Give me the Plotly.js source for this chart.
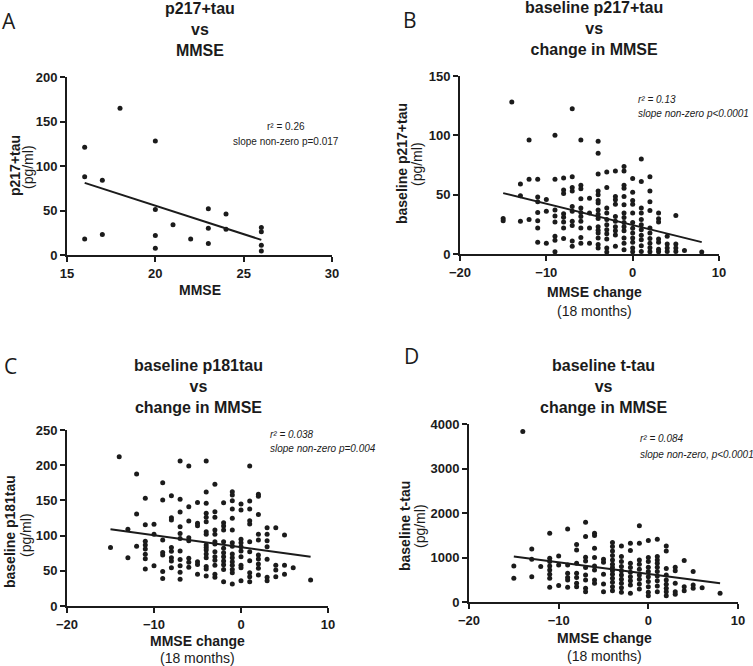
<!DOCTYPE html>
<html>
<head>
<meta charset="utf-8">
<script src="https://cdn.plot.ly/plotly-3.0.1.min.js"></script>
<style>html,body{margin:0;padding:0;background:#fff;}#chart{width:753px;height:666px;}</style>
</head>
<body>
<div id="chart"></div>
<script>
// ---------- DATA ----------
// Panel A: p217+tau vs MMSE
const aX = [16,16,16,17,17,18,20,20,20,20,21,22,23,23,23,24,24,26,26,26,26];
const aY = [121,88,18,84,23,165,128,51,22,7.5,34,18,52,30,13,46,29,31,26,11,4.5];
const aLineX = [16, 26];
const aLineY = [81, 17];

// MMSE change columns (shared by panels B, C, D)
const changeCols = [-15,-14,-13,-12,-11,-10,-9,-8,-7,-6,-5,-4,-3,-2,-1,0,1,2,3,4,5,6,8];

// Panel B: baseline p217+tau vs MMSE change
const bVals = [
 [30,28],
 [128],
 [59,49,27.5],
 [96,63,29],
 [63,48,44,35,28,22,10],
 [46,36,9],
 [100,63,37,32,27,15,11.5,2],
 [64,54,51,34,31,27,22,13],
 [122.5,65,56,53,40,36,27.5,24,11,6.5],
 [96,58,55,46.5,38.7,35,31.7,27.5,22,14,9],
 [47,34.5,22,9],
 [95,85,67.5,53,50,45,43,37,33.6,30,23,20,17.7,13.5,8,5],
 [69,56,38.7,34.5,29,24.7,20.5,17,12.6,5,1.7],
 [70,48.5,45.7,42,31.7,27.5,23,19.6,16,6.5],
 [73.7,70,58,55.5,48.5,41.5,34.5,30.8,26.6,23,19.6,13.5,9,3.6],
 [63.6,52,45,42,34.5,26.6,21.6,17.7,13.5,10,5,2],
 [80,61,38.7,34.5,29,24.7,20.5,15.7,12,7,2.2],
 [65,53,44,36.7,22,17.7,13,9,5.3,2],
 [34.5,29.7,27,12.6,10,4,2],
 [15,8.5,5,2.2],
 [32.5,8.5,5,2.2],
 [3],
 [1.7]
];
const bLineX = [-15, 8];
const bLineY = [51.3, 10];

// Panel C: baseline p181tau vs MMSE change
const cVals = [
 [83],
 [212],
 [109,68.7],
 [187.5,130.7,85],
 [153,115.5,92,86.6,81,73.4,67,52.6],
 [116,102,57],
 [175,150.6,93.7,76,72.4,49,39],
 [156.7,125.5,122,83,77.6,68.7,64,54.5],
 [206,151.5,133.5,112.7,103,96,78,66,57,48,38],
 [199,141,120.7,97,92.8,67.7,62,55],
 [147,117.4,114,63,59,45],
 [206,162,146,131.6,126,119.8,105.6,102,86.6,83,79.5,74,68.7,56,52.6,42.6],
 [173,134,126,108,102,91.4,88,77,70,65,58,45,40.7],
 [146.8,118.4,113.6,108,91.4,82,75.8,70,64,58.7,52,34.6],
 [162.4,157.7,149.6,137.8,124.5,108,90,85,74,68.7,63,58,52,47.3,31.3],
 [145,136.4,94.7,90,84.3,78,70,58,54.5,36],
 [199,149,137.8,121,116.5,91.4,77,64.4,47.3,41.7,34.6],
 [158.6,156,130,102,93.7,72.4,66.8,59.7,53.5,44],
 [111,102,92.8,84.3,66.3,40.7,36],
 [111,58,51,41.7],
 [100.8,58,45],
 [54.5],
 [37]
];
const cLineX = [-15, 8];
const cLineY = [109, 70];

// Panel D: baseline t-tau vs MMSE change
const dVals = [
 [810,533],
 [3830],
 [1193,960,570],
 [795],
 [1546,983,908,810,720,623,533,330],
 [1036,833,368],
 [1643,833,645,548,495,330],
 [1290,1170,870,645,548,420,345],
 [1794,1471,1005,923,773,608,495,308,233],
 [1546,1493,1208,998,810,720,495,420],
 [960,893,623,405,233],
 [1336,1246,1148,1043,946,848,773,705,623,533,443,345,255],
 [1261,1021,908,796,705,608,510,420,323,218],
 [1321,1156,870,773,668,570,480,383,195],
 [1711,1321,946,848,735,608,510,405,293],
 [1381,998,908,780,683,570,458,345,218,143],
 [1411,1021,946,870,780,683,585,480,360,233],
 [1261,1148,750,608,495,398,308,233,143],
 [780,705,420,233,173],
 [930,345,255],
 [683,383,308],
 [323],
 [195]
];
const dLineX = [-15, 8];
const dLineY = [1020, 420];

// Tick labels
const aXTicks = [15,20,25,30];
const aYTicks = [0,50,100,150,200];
const chXTicks = [-20,-10,0,10];
const bYTicks = [0,50,100,150];
const cYTicks = [0,50,100,150,200,250];
const dYTicks = [0,1000,2000,3000,4000];

// ---------- BUILD ----------
function flatten(cols, vals){
  const x=[], y=[];
  cols.forEach((c,i)=>vals[i].forEach(v=>{x.push(c); y.push(v);}));
  return {x,y};
}
const B = flatten(changeCols, bVals);
const C = flatten(changeCols, cVals);
const D = flatten(changeCols, dVals);

const INK = '#1b1b1b';
const FONT = 'Liberation Sans, Arial, sans-serif';

function pts(x,y,xa,ya){
  return {x,y,xaxis:xa,yaxis:ya,type:'scatter',mode:'markers',cliponaxis:false,
    marker:{size:5,color:INK},hoverinfo:'x+y',showlegend:false};
}
function line(x,y,xa,ya){
  return {x,y,xaxis:xa,yaxis:ya,type:'scatter',mode:'lines',cliponaxis:false,
    line:{color:INK,width:2},hoverinfo:'skip',showlegend:false};
}

const data = [
  pts(aX,aY,'x','y'), line(aLineX,aLineY,'x','y'),
  pts(B.x,B.y,'x2','y2'), line(bLineX,bLineY,'x2','y2'),
  pts(C.x,C.y,'x3','y3'), line(cLineX,cLineY,'x3','y3'),
  pts(D.x,D.y,'x4','y4'), line(dLineX,dLineY,'x4','y4')
];

const W=753, H=666;
function ax(domPx, range, tickvals, anchor, isY){
  const dom = isY ? [1-domPx[1]/H, 1-domPx[0]/H] : [domPx[0]/W, domPx[1]/W];
  return {domain:dom, range:range, tickvals:tickvals, anchor:anchor,
    showline:true, linecolor:INK, linewidth:2, mirror:false,
    ticks:'outside', ticklen:5, tickwidth:2, tickcolor:INK,
    showgrid:false, zeroline:false, fixedrange:true,
    tickfont:{family:FONT,size:13,color:INK,weight:700}};
}

function T(px,py,text,o){
  o = o||{};
  return {xref:'paper',yref:'paper',x:px/W,y:1-py/H,text:text,showarrow:false,
    xanchor:o.xa||'center',yanchor:'middle',textangle:o.angle||0,
    font:{family:o.family||FONT,size:o.size||14,color:INK,weight:o.bold?700:400,style:o.italic?'italic':'normal'}};
}

const ann = [
  // panel letters
  T(9,21,'A',{size:21,family:'Open Sans, sans-serif'}),
  T(410,20,'B',{size:21,family:'Open Sans, sans-serif'}),
  T(10,366,'C',{size:21,family:'Open Sans, sans-serif'}),
  T(412,356,'D',{size:21,family:'Open Sans, sans-serif'}),
  // titles (three lines each)
  T(200,30,'p217+tau<br>vs<br>MMSE',{size:16,bold:true}),
  T(594,28,'baseline p217+tau<br>vs<br>change in MMSE',{size:16,bold:true}),
  T(198,386,'baseline p181tau<br>vs<br>change in MMSE',{size:16,bold:true}),
  T(603,386,'baseline t-tau<br>vs<br>change in MMSE',{size:16,bold:true}),
  // y titles
  T(15,166,'p217+tau',{bold:true,angle:-90}),
  T(28,167,'(pg/ml)',{angle:-90}),
  T(402,164,'baseline p217+tau',{bold:true,angle:-90}),
  T(417,164,'(pg/ml)',{angle:-90}),
  T(10,532,'baseline p181tau',{bold:true,angle:-90}),
  T(26,535,'(pg/ml)',{angle:-90}),
  T(405,526,'baseline t-tau',{bold:true,angle:-90}),
  T(420,526,'(pg/ml)',{angle:-90}),
  // x titles
  T(200,290,'MMSE',{bold:true}),
  T(594,292,'MMSE change',{bold:true}),
  T(594,311,'(18 months)'),
  T(197,641,'MMSE change',{bold:true}),
  T(197,658,'(18 months)'),
  T(604,638,'MMSE change',{bold:true}),
  T(604,656,'(18 months)'),
  // stats
  T(286,127,'r² = 0.26',{size:10}),
  T(286,142,'slope non-zero p=0.017',{size:10}),
  T(636,99,'r² = 0.13',{size:10,italic:true,xa:'left'}),
  T(636,113,'slope non-zero p<0.0001',{size:10,italic:true,xa:'left'}),
  T(268,434,'r² = 0.038',{size:10,italic:true,xa:'left'}),
  T(268,448,'slope non-zero p=0.004',{size:10,italic:true,xa:'left'}),
  T(638,438,'r² = 0.084',{size:10,italic:true,xa:'left'}),
  T(638,454,'slope non-zero, p<0.0001',{size:10,italic:true,xa:'left'})
];

const layout = {
  width:W, height:H, autosize:false,
  margin:{l:0,r:0,t:0,b:0},
  paper_bgcolor:'#fff', plot_bgcolor:'rgba(0,0,0,0)',
  showlegend:false,
  font:{family:FONT,color:INK},
  xaxis:  ax([67,332],[15,30],aXTicks,'y',false),
  yaxis:  ax([77,255],[0,200],aYTicks,'x',true),
  xaxis2: ax([460,719],[-20,10],chXTicks,'y2',false),
  yaxis2: ax([76,254],[0,150],bYTicks,'x2',true),
  xaxis3: ax([67,328],[-20,10],chXTicks,'y3',false),
  yaxis3: ax([430,606],[0,250],cYTicks,'x3',true),
  xaxis4: ax([469,738],[-20,10],chXTicks,'y4',false),
  yaxis4: ax([424,602],[0,4000],dYTicks,'x4',true),
  annotations: ann
};

Plotly.newPlot('chart', data, layout, {displayModeBar:false, staticPlot:true});
</script>
</body>
</html>
